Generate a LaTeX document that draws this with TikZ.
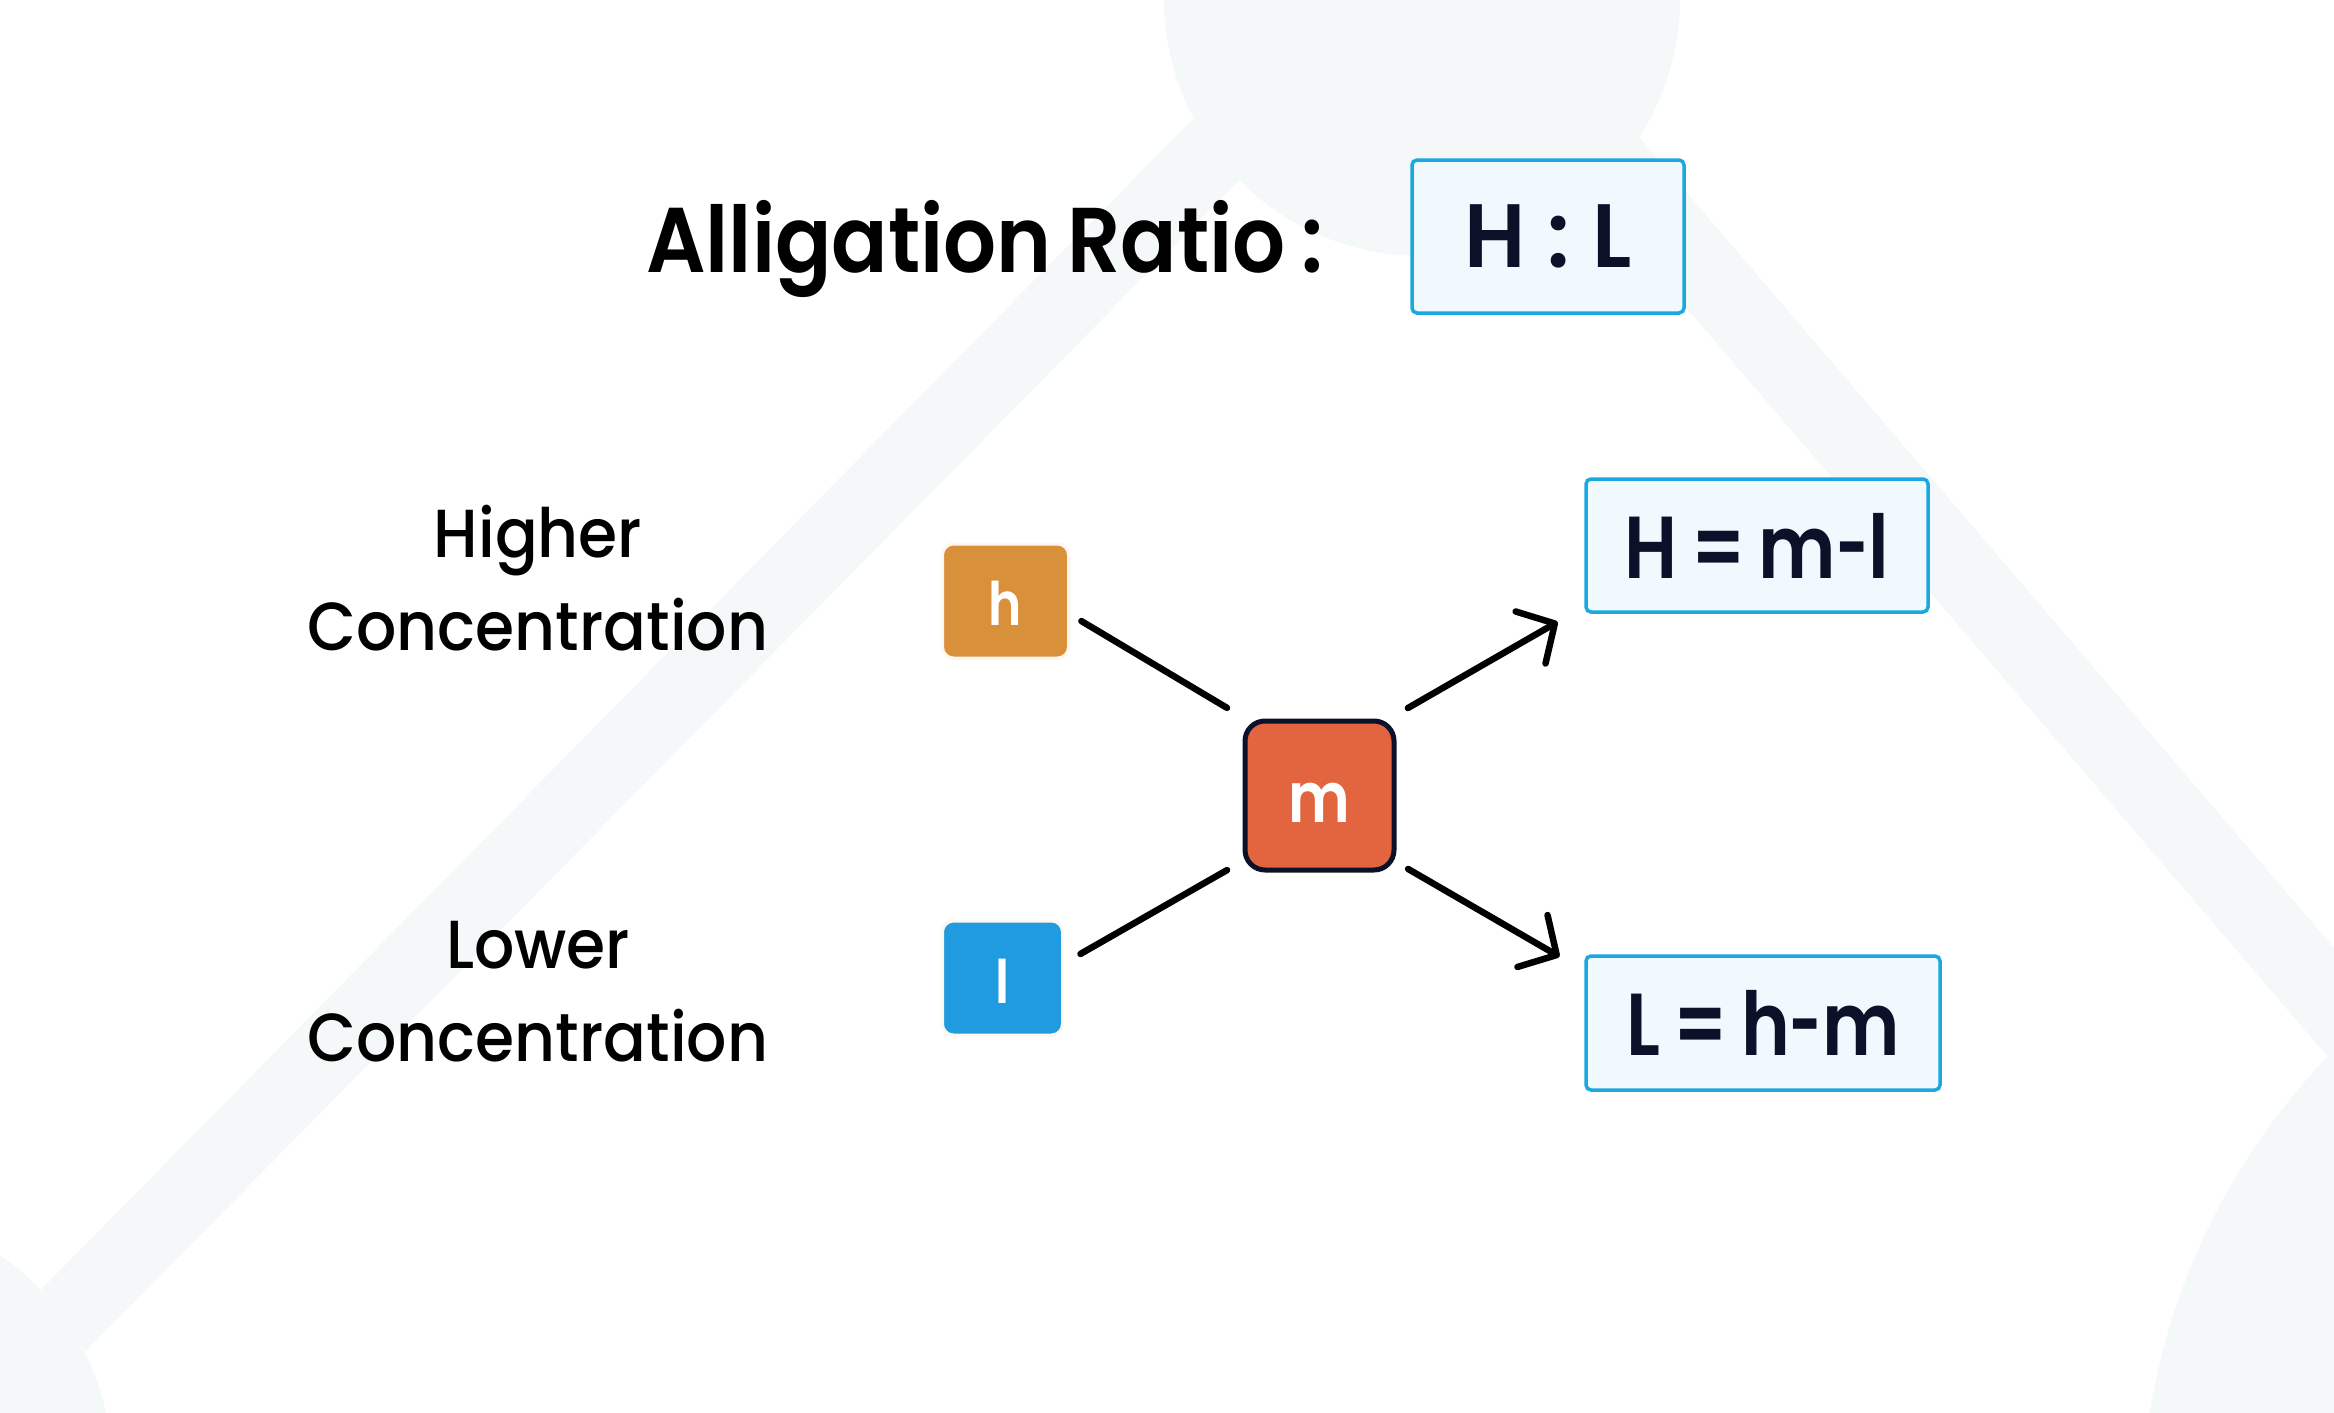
\documentclass[tikz,border=0pt]{standalone}
\usepackage{fontspec}
\usepackage{graphicx}
\setmainfont{Poppins}[UprightFont=* Medium,FakeStretch=0.93]
\newfontfamily\semifont{Poppins}[UprightFont=* SemiBold,FakeStretch=0.84,WordSpace=0.75]
\newfontfamily\ratiofont{Poppins}[UprightFont=* SemiBold,FakeStretch=0.95,WordSpace=1.1]
\newfontfamily\titlefont{Poppins}[UprightFont=* SemiBold,FakeStretch=0.905,WordSpace=0.8]
\newcommand{\shorthy}{\scalebox{0.75}[1]{-}}
\usetikzlibrary{arrows.meta}
\definecolor{bgshape}{HTML}{F4F8F9}
\definecolor{sky}{HTML}{1BA8E0}
\definecolor{skyfill}{HTML}{F0FAFE}
\definecolor{navy}{HTML}{0A1128}
\definecolor{chipo}{HTML}{D9903A}
\definecolor{chipb}{HTML}{219BDF}
\definecolor{chipr}{HTML}{E2653F}
\definecolor{halo}{HTML}{FDF7F0}
\tikzset{
  every node/.style={outer sep=0pt},
  resultbox/.style={draw=sky,fill=skyfill,line width=3.5pt,rounded corners=5pt,text=navy,font=\semifont\fontsize{88}{100}\selectfont,anchor=north west,inner sep=0pt},
  chip/.style={draw=halo,fill=#1,line width=3pt,rounded corners=11pt,text=white,font=\semifont\fontsize{60}{60}\selectfont,anchor=north west,inner sep=0pt},
  link/.style={draw=black,line width=6.5pt,line cap=round},
  linkarrow/.style={link,-{Straight Barb[length=28pt,width=60pt,line width=6.5pt,round]}},
  sidelabel/.style={align=center,font=\fontsize{68}{93}\selectfont,text=black},
}
\begin{document}
\begin{tikzpicture}[x=1pt,y=-1pt]
\useasboundingbox (0,0) rectangle (2334,1413);
\fill[white] (0,0) rectangle (2334,1413);
\begin{scope}
\clip (0,0) rectangle (2334,1413);
\fill[bgshape] (1422,-2) circle[radius=258];
\fill[bgshape] (-146,1468) circle[radius=258];
\fill[bgshape] (2815.6,1523) circle[radius=675];
\fill[bgshape] (1194,118) -- (1239,180) -- (86,1351) -- (41,1290) -- cycle;
\fill[bgshape] (1639,137) -- (2334,948) -- (2334,1065) -- (2328,1057) -- (1560,160) -- cycle;
\end{scope}
\node[anchor=base,font=\titlefont\fontsize{92}{110}\selectfont] (title) at (985,272) {Alligation Ratio :};
\node[resultbox,font=\ratiofont\fontsize{90}{100}\selectfont,minimum width=272pt,minimum height=153pt] (ratio) at (1412,160) {H : L};
\node[sidelabel] (high) at (538,578) {Higher\\Concentration};
\node[sidelabel] (low) at (538,992) {Lower\\Concentration};
\node[chip=chipo,minimum width=126pt,minimum height=114pt] (h) at (942.5,544) {\raisebox{-24pt}[0pt][0pt]{h}};
\node[chip=chipb,minimum width=120pt,minimum height=114pt] (l) at (942.5,921) {\raisebox{-25pt}[0pt][0pt]{l}};
\node[draw=navy,fill=chipr,line width=5pt,rounded corners=20pt,text=white,font=\semifont\fontsize{70}{70}\selectfont,minimum width=149pt,minimum height=149pt,inner sep=0pt] (m) at (1319.5,795.5) {\raisebox{-27pt}[0pt][0pt]{m}};
\node[resultbox,minimum width=342pt,minimum height=133pt] (hres) at (1586,479) {H = m\shorthy l};
\node[resultbox,minimum width=354pt,minimum height=134pt] (lres) at (1586,956) {L = h\shorthy m};
\draw[link,shorten <=15pt,shorten >=21pt] ([yshift=-12.4pt]h.east) -- ([yshift=2.4pt]m.north west);
\draw[link,shorten <=20.7pt,shorten >=20.7pt] ([yshift=13.8pt]l.east) -- ([yshift=10.2pt]m.south west);
\draw[linkarrow,shorten <=16pt,shorten >=32.7pt] ([yshift=5pt]m.north east) -- ([yshift=6.4pt]hres.south west);
\draw[linkarrow,shorten <=16.3pt,shorten >=30.6pt] ([yshift=9.2pt]m.south east) -- ([yshift=-16pt]lres.north west);
\end{tikzpicture}
\end{document}
